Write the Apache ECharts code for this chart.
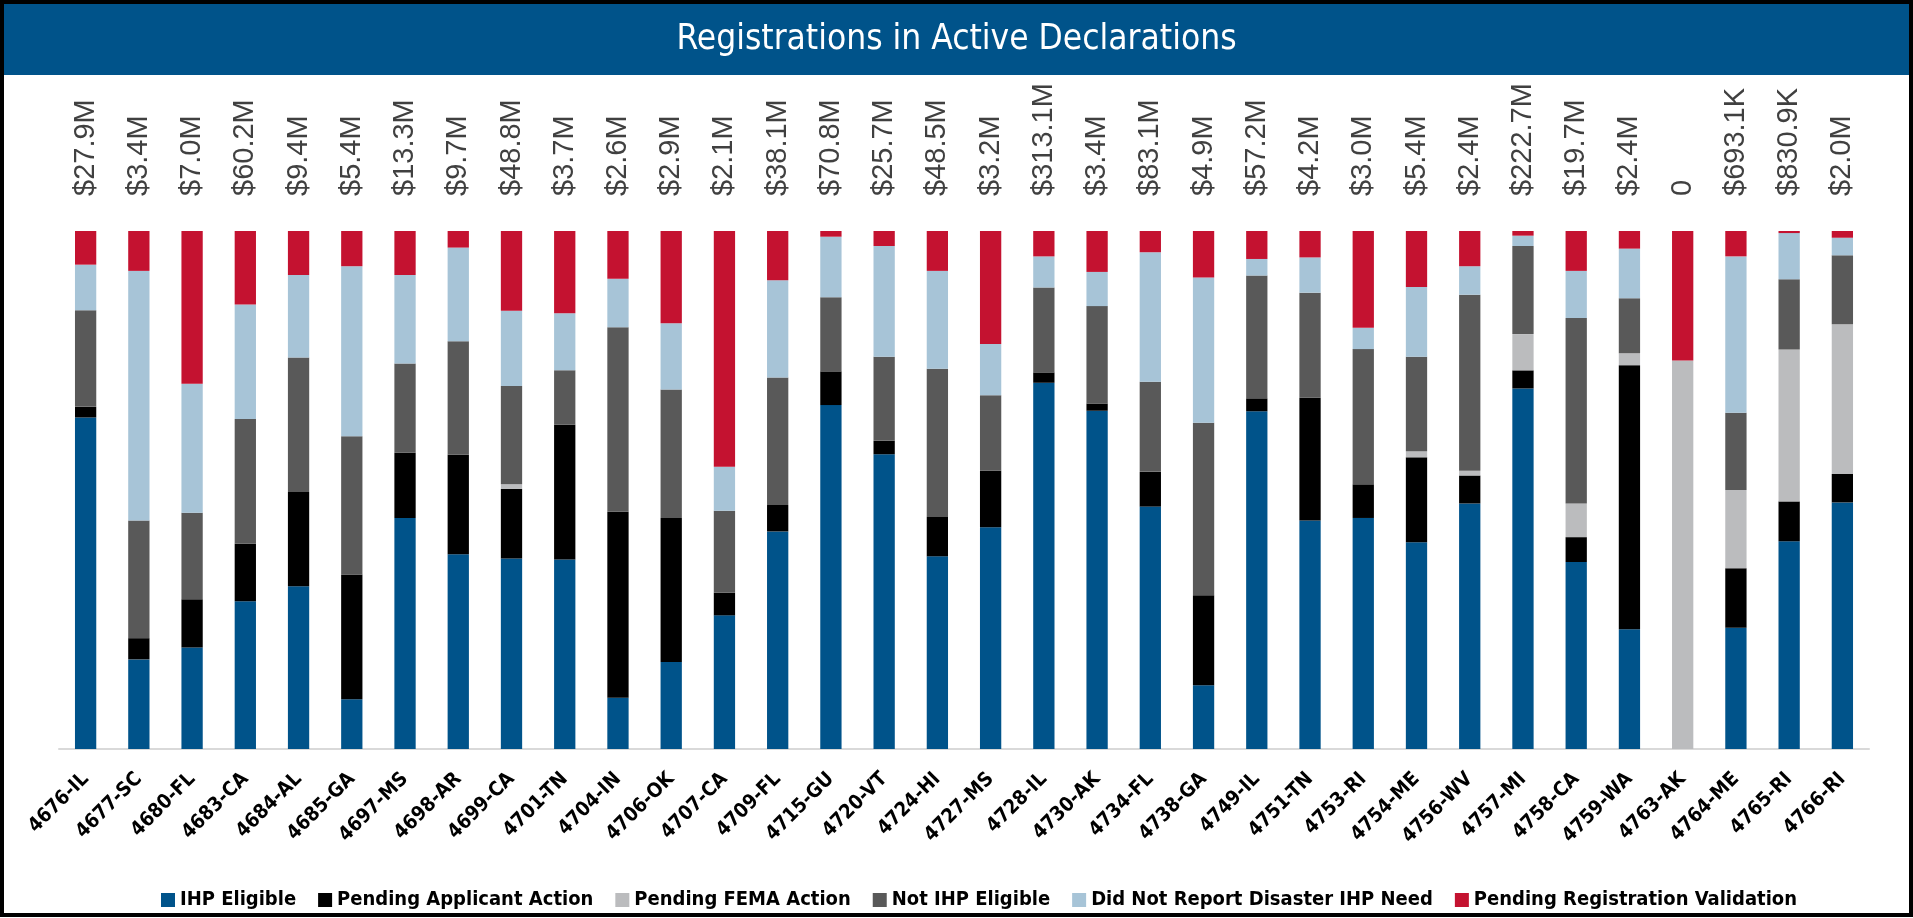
<!DOCTYPE html>
<html>
<head>
<meta charset="utf-8">
<script src="https://cdn.jsdelivr.net/npm/echarts@6/dist/echarts.min.js"></script>
<style>
html,body{margin:0;padding:0;background:#fff;}
#chart{width:1913px;height:918px;}
</style>
</head>
<body>
<div id="chart"></div>
<script>
const categories = ['4676-IL','4677-SC','4680-FL','4683-CA','4684-AL','4685-GA','4697-MS','4698-AR','4699-CA','4701-TN','4704-IN','4706-OK','4707-CA','4709-FL','4715-GU','4720-VT','4724-HI','4727-MS','4728-IL','4730-AK','4734-FL','4738-GA','4749-IL','4751-TN','4753-RI','4754-ME','4756-WV','4757-MI','4758-CA','4759-WA','4763-AK','4764-ME','4765-RI','4766-RI'];

// share of registrations, percent
const ihpEligible        = [64.0,17.3,19.6,28.5,31.4,9.6,44.6,37.6,36.8,36.6,9.9,16.8,25.8,42.0,66.4,56.9,37.2,42.8,70.7,65.3,46.8,12.3,65.2,44.1,44.6,39.9,47.4,69.6,36.1,23.1,0,23.4,40.1,47.6];
const pendingApplicant   = [2.1,4.1,9.3,11.1,18.2,24.1,12.6,19.2,13.4,26.0,35.9,27.8,4.4,5.1,6.5,2.6,7.6,10.9,2.0,1.4,6.7,17.4,2.5,23.7,6.5,16.4,5.4,3.5,4.8,51.0,0,11.5,7.7,5.5];
const pendingFema        = [0,0,0,0,0,0,0,0,0.9,0,0,0,0,0,0,0,0,0,0,0,0,0,0,0,0,1.2,0.9,7.0,6.5,2.3,75.0,15.1,29.3,28.9];
const notIhpEligible     = [18.6,22.7,16.7,24.1,26.0,26.7,17.2,21.9,19.0,10.5,35.6,24.8,15.8,24.6,14.3,16.2,28.6,14.6,16.4,18.8,17.4,33.3,23.7,20.3,26.1,18.2,34.0,17.0,35.8,10.6,0,14.9,13.6,13.3];
const didNotReport       = [8.8,48.2,24.9,22.1,15.9,32.8,17.1,18.1,14.5,11.0,9.4,12.8,8.5,18.8,11.7,21.4,18.9,9.9,6.0,6.6,25.0,28.0,3.2,6.8,4.1,13.5,5.5,2.0,9.1,9.6,0,30.2,8.9,3.4];
const pendingValidation  = [6.5,7.7,29.5,14.2,8.5,6.8,8.5,3.2,15.4,15.9,9.2,17.8,45.5,9.5,1.1,2.9,7.7,21.8,4.9,7.9,4.1,9.0,5.4,5.1,18.7,10.8,6.8,0.9,7.7,3.4,25.0,4.9,0.4,1.3];

// dollar amounts shown above the bars
const amounts = [27.9e6,3.4e6,7.0e6,60.2e6,9.4e6,5.4e6,13.3e6,9.7e6,48.8e6,3.7e6,2.6e6,2.9e6,2.1e6,38.1e6,70.8e6,25.7e6,48.5e6,3.2e6,313.1e6,3.4e6,83.1e6,4.9e6,57.2e6,4.2e6,3.0e6,5.4e6,2.4e6,222.7e6,19.7e6,2.4e6,0,693.1e3,830.9e3,2.0e6];

const seriesNames = ['IHP Eligible','Pending Applicant Action','Pending FEMA Action','Not IHP Eligible','Did Not Report Disaster IHP Need','Pending Registration Validation'];
const seriesData = [ihpEligible,pendingApplicant,pendingFema,notIhpEligible,didNotReport,pendingValidation];
const colors = ['#00538A','#000000','#BBBCBE','#595959','#A7C4D7','#C41230'];

const condFont = '"DejaVu Sans Condensed", "Liberation Sans Narrow", "Roboto", sans-serif';

function fmtAmount(v){
  if (v >= 1e6) return '$' + (v/1e6).toFixed(1) + 'M';
  if (v >= 1e3) return '$' + (v/1e3).toFixed(1) + 'K';
  return '0';
}

const chart = echarts.init(document.getElementById('chart'));
const series = seriesNames.map((name,i)=>{
  const s = {
    name: name,
    type: 'bar',
    stack: 'total',
    barWidth: '40%',
    data: seriesData[i],
    itemStyle: {color: colors[i]}
  };
  if (i === seriesNames.length-1) {
    s.label = {
      show: true,
      position: 'top',
      distance: 29,
      rotate: 90,
      align: 'left',
      verticalAlign: 'middle',
      offset: [6, 0],
      fontFamily: 'Liberation Sans',
      fontSize: 29,
      color: '#404040',
      formatter: p => fmtAmount(amounts[p.dataIndex])
    };
  }
  return s;
});

chart.setOption({
  animation: false,
  color: colors,
  graphic: [
    {type:'rect', z:-10, shape:{x:3,y:3,width:1907,height:72}, style:{fill:'#00538A'}},
    {type:'text', z:10, left:'center', top:22, style:{text:'Registrations in Active Declarations', fill:'#fff', fontFamily: condFont, fontSize: 35}},
    {type:'rect', z:20, shape:{x:2,y:2,width:1909,height:913}, style:{fill:'none', stroke:'#000', lineWidth:4}}
  ],
  grid: {left:59, right:44, top:231, bottom:169, containLabel:false},
  legend: {
    bottom: 3,
    left: 156,
    itemWidth: 14,
    itemHeight: 14,
    itemGap: 22,
    icon: 'rect',
    textStyle: {fontFamily: condFont, fontWeight:'bold', fontSize:20, color:'#000'},
    data: seriesNames
  },
  xAxis: {
    type: 'category',
    data: categories,
    axisTick: {show:false},
    axisLine: {lineStyle:{color:'#d9d9d9', width:2}},
    axisLabel: {interval:0, rotate:45, margin:27, fontFamily: condFont, fontWeight:'bold', fontSize:20, color:'#000'}
  },
  yAxis: {type:'value', min:0, max:100, show:false, splitLine:{show:false}},
  series: series
});
</script>
</body>
</html>
